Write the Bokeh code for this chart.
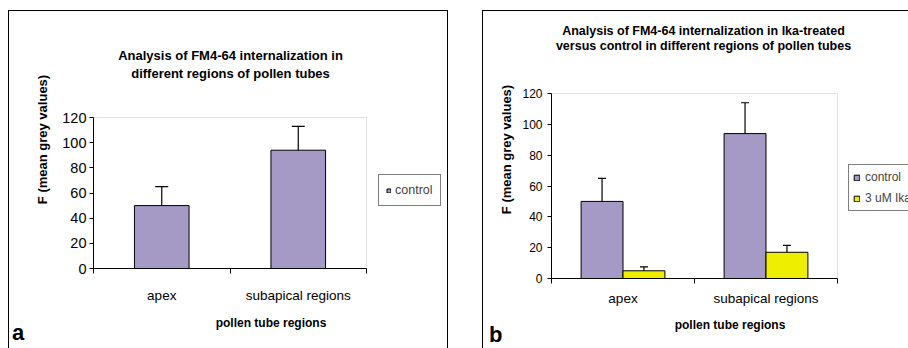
from bokeh.plotting import figure
from bokeh.models import (Range1d, FixedTicker, ColumnDataSource, Whisker, TeeHead, Legend,
                          LegendItem, Label, BoxAnnotation, Div)
from bokeh.transform import dodge
from bokeh.layouts import row
from bokeh.embed import file_html
from bokeh.resources import INLINE

# ---------------- data ----------------
regions = ["apex", "subapical regions"]
y_ticks = [0, 20, 40, 60, 80, 100, 120]
series_names = ["control", "3 uM Ika"]

# panel a (control only)
a_control = [50, 94]
a_control_low = [31, 79]
a_control_high = [65, 113]

# panel b (control vs Ika-treated)
b_control = [50, 94]
b_control_low = [35.5, 74.5]
b_control_high = [65, 114]
b_ika = [5, 17]
b_ika_low = [4, 12.5]
b_ika_high = [7.5, 21.5]

title_a = "Analysis of FM4-64 internalization in\ndifferent regions of pollen tubes"
title_b = "Analysis of FM4-64 internalization in Ika-treated\nversus control in different regions of pollen tubes"
y_label = "F (mean grey values)"
x_label = "pollen tube regions"
panel_letters = ["a", "b"]

# category slots on the x scale: centre of each category, and the boundaries between them
cat_centers = [i + 0.5 for i in range(len(regions))]
cat_edges = list(range(len(regions) + 1))

# ---------------- style ----------------
PURPLE = "#A599C6"
YELLOW = "#EEEE00"
SANS = "Liberation Sans"
H = 328          # canvas height of both panels
BOTTOM = 70      # space below the plot area (x axis), same for both panels
FB = H - BOTTOM  # canvas y of the plot-area bottom


def base_panel(width, left, plot_top, plot_w, margin, shadow, tick_size,
               tick_standoff, cat_standoff, xl_standoff, yl_standoff):
    # The frame reaches the top and right edges of the canvas so that titles and legends
    # drawn there are not clipped; the plot area itself is the category / 0..120 box.
    frame_w = width - left
    plot_h = FB - plot_top
    n = len(regions)
    ymax = max(y_ticks)
    p = figure(width=width, height=H, output_backend="svg", toolbar_location=None,
               title=None,
               x_range=Range1d(0, n * frame_w / plot_w), y_range=Range1d(0, ymax * FB / plot_h),
               min_border_left=left, min_border_right=0,
               min_border_top=0, min_border_bottom=BOTTOM,
               margin=margin,
               styles={"box-shadow": shadow, "background-color": "white"})
    p.background_fill_color = None
    p.border_fill_color = None
    p.outline_line_color = None
    p.grid.visible = False
    p.add_layout(BoxAnnotation(left=0, right=n, bottom=0, top=ymax, level="underlay",
                               fill_alpha=0, line_color="#9a9a9a", line_width=1))

    # y axis
    ya = p.yaxis[0]
    ya.bounds = (0, ymax)
    ya.ticker = FixedTicker(ticks=y_ticks)
    ya.major_tick_out = 4
    ya.major_tick_in = 0
    ya.minor_tick_line_color = None
    ya.axis_line_color = "black"
    ya.major_tick_line_color = "black"
    ya.major_label_text_font = SANS
    ya.major_label_text_font_size = tick_size
    ya.major_label_text_color = "black"
    ya.major_label_standoff = tick_standoff
    ya.axis_label = y_label
    ya.axis_label_text_font = SANS
    ya.axis_label_text_font_style = "bold"
    ya.axis_label_text_font_size = "13px"
    ya.axis_label_text_color = "black"
    ya.axis_label_standoff = yl_standoff

    # x axis: labels at category centres, tick marks at category boundaries
    xa = p.xaxis[0]
    xa.bounds = (0, n)
    xa.ticker = FixedTicker(ticks=cat_centers, minor_ticks=cat_edges)
    xa.major_label_overrides = {c: r for c, r in zip(cat_centers, regions)}
    xa.major_tick_line_color = None
    xa.major_tick_out = 0
    xa.major_tick_in = 0
    xa.minor_tick_line_color = "black"
    xa.minor_tick_out = 5
    xa.minor_tick_in = 0
    xa.axis_line_color = "black"
    xa.major_label_text_font = SANS
    xa.major_label_text_font_size = "13.5px"
    xa.major_label_text_color = "black"
    xa.major_label_standoff = cat_standoff
    xa.axis_label = x_label
    xa.axis_label_text_font = SANS
    xa.axis_label_text_font_style = "bold"
    xa.axis_label_text_font_size = "12px"
    xa.axis_label_text_color = "black"
    xa.axis_label_standoff = xl_standoff
    return p


def title_label(p, left, x, y_top, text, size, lh):
    # "screen" units are measured from the frame's bottom-left corner
    p.add_layout(Label(x=x - left, y=FB - y_top, x_units="screen", y_units="screen",
                       text=text, text_font=SANS, text_font_size=size,
                       text_font_style="bold", text_align="center", text_baseline="top",
                       text_color="black", text_line_height=lh))


def letter(text, margin):
    return Div(text=text, width=24, height=24, margin=margin,
               styles={"font-family": SANS, "font-size": "22px", "font-weight": "bold",
                       "line-height": "22px", "color": "black", "padding": "0"})


# ---------------- panel a ----------------
LA = 85
pa = base_panel(width=440, left=LA, plot_top=107, plot_w=273, margin=(10, 0, 0, 8),
                shadow=("0 11px 0 -1px white, 0 10px 0 0 black, "
                        "inset 1px 1px 0 0 black, inset -1px 0 0 0 black"),
                tick_size="14.5px", tick_standoff=3,
                cat_standoff=14, xl_standoff=10, yl_standoff=9)
src_a = ColumnDataSource(dict(x=cat_centers, region=regions, control=a_control,
                              lo=a_control_low, hi=a_control_high))
ra = pa.vbar(x="x", top="control", width=0.4, source=src_a,
             fill_color=PURPLE, line_color="black", line_width=1)
pa.add_layout(Whisker(base="x", lower="lo", upper="hi", source=src_a,
                      line_color="black", line_width=1.2,
                      upper_head=TeeHead(size=13, line_color="black", line_width=1.2),
                      lower_head=TeeHead(size=13, line_color="black", line_width=1.2)))
leg_a = Legend(items=[LegendItem(label=series_names[0], renderers=[ra])],
               location=(285, 62), margin=0, padding=7, spacing=0,
               glyph_width=5, glyph_height=5, label_standoff=4, label_height=16,
               label_text_font=SANS, label_text_font_size="12.5px",
               border_line_color="black", border_line_width=1.2,
               background_fill_color="white", background_fill_alpha=1)
pa.add_layout(leg_a)
title_label(pa, LA, 222, 37, title_a, "13px", 1.2)

# ---------------- panel b ----------------
LB = 69
pb = base_panel(width=426, left=LB, plot_top=73, plot_w=286, margin=(20, 0, 0, 34),
                shadow="1px -9px 0 0 white, 0 -10px 0 0 black, inset 1px 0 0 0 black",
                tick_size="12px", tick_standoff=5,
                cat_standoff=7, xl_standoff=9, yl_standoff=5)
src_b = ColumnDataSource(dict(x=cat_centers, region=regions, control=b_control,
                              c_lo=b_control_low, c_hi=b_control_high,
                              ika=b_ika, i_lo=b_ika_low, i_hi=b_ika_high))
BW = 0.293
rb1 = pb.vbar(x=dodge("x", -BW / 2), top="control", width=BW,
              source=src_b, fill_color=PURPLE, line_color="black", line_width=1)
rb2 = pb.vbar(x=dodge("x", BW / 2), top="ika", width=BW,
              source=src_b, fill_color=YELLOW, line_color="black", line_width=1)
for off, lo, hi in ((-BW / 2, "c_lo", "c_hi"), (BW / 2, "i_lo", "i_hi")):
    pb.add_layout(Whisker(base=dodge("x", off), lower=lo, upper=hi,
                          source=src_b, line_color="black", line_width=1.2,
                          upper_head=TeeHead(size=8, line_color="black", line_width=1.2),
                          lower_head=TeeHead(size=8, line_color="black", line_width=1.2)))
leg_b = Legend(items=[LegendItem(label=series_names[0], renderers=[rb1]),
                      LegendItem(label=series_names[1], renderers=[rb2])],
               location=(297, 67), margin=0, padding=4, spacing=5,
               glyph_width=7, glyph_height=7, label_standoff=5, label_height=16,
               label_text_font=SANS, label_text_font_size="12px",
               border_line_color="black", border_line_width=1.2,
               background_fill_color="white", background_fill_alpha=1)
pb.add_layout(leg_b)
title_label(pb, LB, 221, 3, title_b, "12.5px", 1.14)

# panel letters (a at the lower left of panel a, b at the lower left of panel b)
la = letter(panel_letters[0], (322, 412, 0, -436))
lb = letter(panel_letters[1], (324, 0, 0, -419))

layout = row(pa, la, pb, lb)
open("out.html", "w").write(file_html(layout, INLINE))
